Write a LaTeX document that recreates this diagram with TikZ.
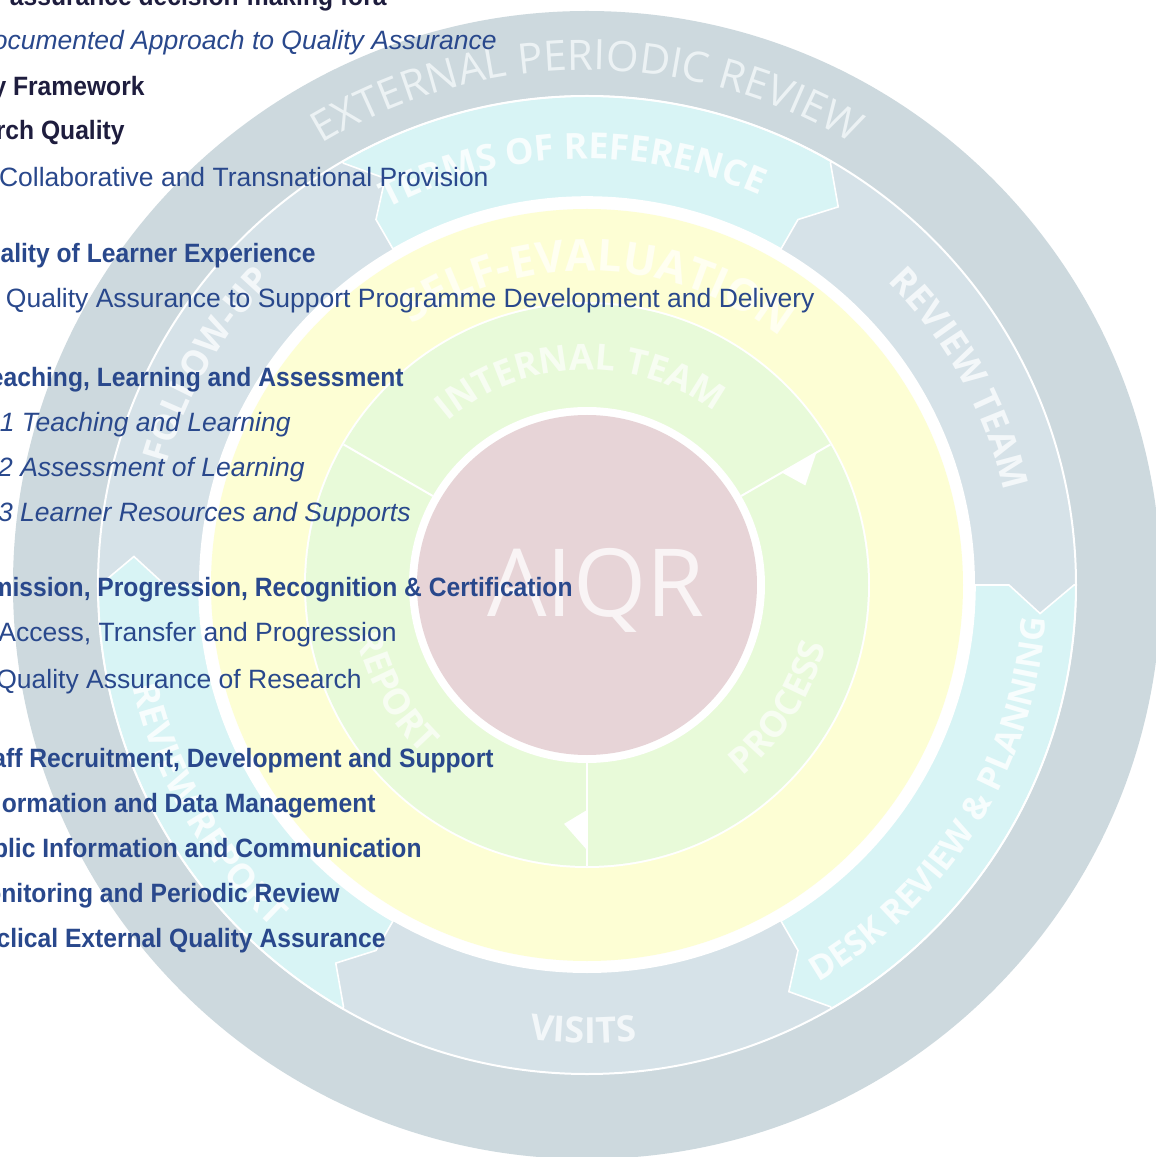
\documentclass[tikz,border=0pt]{standalone}
\usepackage{fontspec}
\setmainfont{Liberation Sans}[BoldFeatures={FakeStretch=0.93}]
\newfontfamily\ringfont{Open Sans}
\usetikzlibrary{decorations.text}

\definecolor{txtblue}{RGB}{41,72,140}
\definecolor{txtnavy}{RGB}{30,29,62}
\definecolor{ringouter}{RGB}{205,217,222}
\definecolor{ringgrey}{RGB}{214,226,232}
\definecolor{ringcyan}{RGB}{216,244,245}
\definecolor{ringyellow}{RGB}{253,254,212}
\definecolor{ringgreen}{RGB}{232,250,217}
\definecolor{coreplum}{RGB}{231,212,215}
\definecolor{lblouter}{RGB}{236,242,244}
\definecolor{lblgrey}{RGB}{243,247,249}
\definecolor{lblcyan}{RGB}{247,253,253}
\definecolor{lblyellow}{RGB}{255,255,241}
\definecolor{lblgreen}{RGB}{247,253,242}
\definecolor{lblcore}{RGB}{249,244,245}

\newcommand\ringbold{\ringfont\bfseries\fontsize{18}{18}\selectfont}
\newcommand\ringdesk{\ringfont\bfseries\fontsize{17}{17}\selectfont}
\newcommand\ringbig{\ringfont\bfseries\fontsize{22}{22}\selectfont}
\newcommand\ringthin{\ringfont\fontsize{21}{21}\selectfont}

\begin{document}
\begin{tikzpicture}[x=0.5pt,y=0.5pt,
    txt/.style={anchor=base east, inner sep=0pt},
    navyhead/.style={txt, text=txtnavy, font=\fontsize{13.25}{15}\selectfont\bfseries},
    bluehead/.style={txt, text=txtblue, font=\fontsize{13.25}{15}\selectfont\bfseries},
    blueplain/.style={txt, text=txtblue, font=\fontsize{13.25}{15}\selectfont},
    blueital/.style={txt, text=txtblue, font=\fontsize{13.25}{15}\selectfont\itshape},
    ringtext/.style 2 args={decorate, decoration={text along path, text align=center,
        text color=#1, text={#2}}}]
  \useasboundingbox (-587,-572) rectangle (569,585);
  \clip (-587,-572) rectangle (569,585);
  \fill[white] (-587,-572) rectangle (569,585);

  % rings
  \fill[ringouter] (0,0) circle[radius=574];
  \fill[ringgrey] (0,0) circle[radius=489];
  \foreach \a in {120,0,-120}
    \filldraw[fill=ringcyan, draw=white, line width=0.8pt]
      (\a:388) -- (\a:422) -- ({\a-3.6}:454) -- (\a:487) -- (\a:489)
      arc[start angle=\a, end angle=\a-60, radius=489]
      -- ({\a-60}:487) -- ({\a-63.6}:454) -- ({\a-60}:422) -- ({\a-60}:388)
      arc[start angle=\a-60, end angle=\a, radius=388] -- cycle;
  \draw[white, line width=1pt] (0,0) circle[radius=489];
  \fill[white] (0,0) circle[radius=388];
  \fill[ringyellow] (0,0) circle[radius=376];
  \fill[white] (0,0) circle[radius=283];
  \fill[ringgreen] (0,0) circle[radius=281];
  \fill[white] (0,0) circle[radius=178];
  \fill[coreplum] (0,0) circle[radius=170];
  \foreach \a in {150,30,270}
    \draw[white, line width=1pt] (\a:178) -- (\a:281);
  \foreach \a in {30,270}
    \fill[white] (\a:225) -- ({\a-5.5}:240) -- (\a:265) -- cycle;

  % ring labels
  \path[ringtext={lblouter}{|\ringthin|EXTERNAL PERIODIC REVIEW}]
    (140:515) arc[start angle=140, end angle=40, radius=515];
  \path[ringtext={lblcyan}{|\ringbold|TERMS OF REFERENCE}]
    (140:426) arc[start angle=140, end angle=44, radius=426];
  \path[ringtext={lblgrey}{|\ringbold|REVIEW TEAM}]
    (69:427) arc[start angle=69, end angle=-11, radius=427];
  \path[ringtext={lblcyan}{|\ringdesk|DESK REVIEW {\&} PLANNING}]
    (-80:460) arc[start angle=-80, end angle=16, radius=460];
  \path[ringtext={lblgrey}{|\ringbold|VISITS}]
    (-130:458) arc[start angle=-130, end angle=-51, radius=458];
  \path[ringtext={lblcyan}{|\ringbold|REVIEW REPORT}]
    (170:465) arc[start angle=170, end angle=250, radius=465];
  \path[ringtext={lblgrey}{|\ringbold|FOLLOW-UP}]
    (190:437) arc[start angle=190, end angle=110, radius=437];
  \path[ringtext={lblyellow}{|\ringbig|SELF-EVALUATION}]
    (140:314) arc[start angle=140, end angle=36, radius=314];
  \path[ringtext={lblgreen}{|\ringbold|INTERNAL TEAM}]
    (150:215) arc[start angle=150, end angle=34, radius=215];
  \path[ringtext={lblgreen}{|\ringbold|PROCESS}]
    (-80:246) arc[start angle=-80, end angle=15, radius=246];
  \path[ringtext={lblgreen}{|\ringbold|REPORT}]
    (165:236) arc[start angle=165, end angle=253, radius=236];
  \node[anchor=base, inner sep=0pt, text=lblcore,
    font=\ringfont\fontsize{47}{47}\selectfont] (aiqr) at (9,-32) {AIQR};

  % list of areas
  \node[navyhead] (fora) at (-200,579) {assurance decision-making fora};
  \node[blueital] (approach) at (-90,535) {ocumented Approach to Quality Assurance};
  \node[navyhead] (framework) at (-442,489) {y Framework};
  \node[navyhead] (research) at (-462,445) {rch Quality};
  \node[blueplain] (collab) at (-98,398) {Collaborative and Transnational Provision};
  \node[bluehead] (learner) at (-271,322) {ality of Learner Experience};
  \node[blueplain] (programme) at (228,277) {Quality Assurance to Support Programme Development and Delivery};
  \node[bluehead] (teachhead) at (-183,198) {eaching, Learning and Assessment};
  \node[blueital] (teach) at (-296,153) {1 Teaching and Learning};
  \node[blueital] (assess) at (-282,108) {2 Assessment of Learning};
  \node[blueital] (resources) at (-176,63) {3 Learner Resources and Supports};
  \node[bluehead] (admission) at (-14,-11) {mission, Progression, Recognition \& Certification};
  \node[blueplain] (access) at (-190,-56) {Access, Transfer and Progression};
  \node[blueplain] (qaresearch) at (-225,-103) {Quality Assurance of Research};
  \node[bluehead] (staff) at (-93,-182) {aff Recruitment, Development and Support};
  \node[bluehead] (data) at (-211,-227) {ormation and Data Management};
  \node[bluehead] (public) at (-165,-272) {blic Information and Communication};
  \node[bluehead] (monitor) at (-247,-317) {onitoring and Periodic Review};
  \node[bluehead] (cyclical) at (-201,-362) {clical External Quality Assurance};
\end{tikzpicture}
\end{document}
